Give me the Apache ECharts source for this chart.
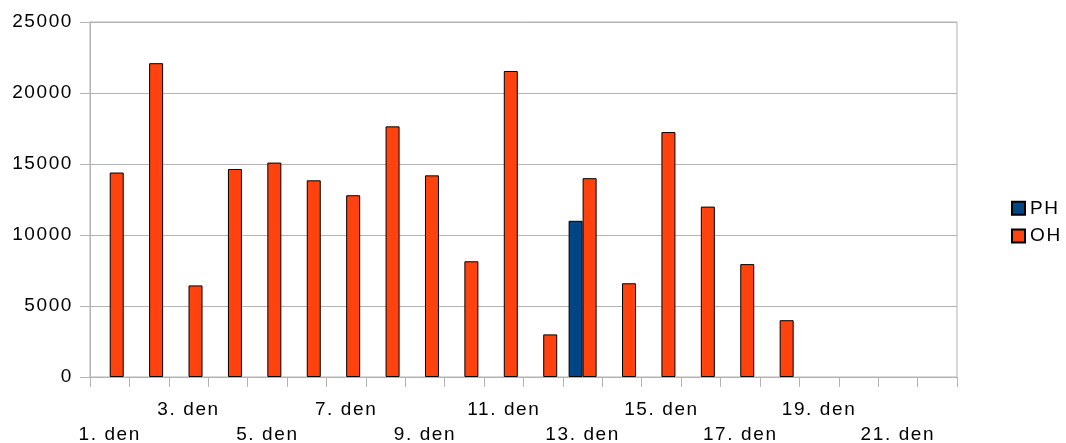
<!DOCTYPE html>
<html>
<head>
<meta charset="utf-8">
<script src="https://cdn.jsdelivr.net/npm/echarts@6/dist/echarts.min.js"></script>
<style>
html,body{margin:0;padding:0;background:#fff;}
#chart{width:1066px;height:443px;}
</style>
</head>
<body>
<div id="chart"></div>
<script>
const categories = ['1. den','2. den','3. den','4. den','5. den','6. den','7. den','8. den','9. den','10. den','11. den',
  '12. den','13. den','14. den','15. den','16. den','17. den','18. den','19. den','20. den','21. den','22. den'];
const phValues = [null,null,null,null,null,null,null,null,null,null,null,null,11000,null,null,null,null,null,null,null,null,null];
const ohValues = [14400,22100,6450,14650,15100,13850,12800,17650,14200,8150,21550,3000,14000,6600,17250,12000,7950,4000,null,null,null,null];
const yTicks = [0,5000,10000,15000,20000,25000];

// wider letter spacing like the original office-style rendering
(function(){
  const P = CanvasRenderingContext2D.prototype;
  if (!('letterSpacing' in P)) return;
  const f = P.fillText, m = P.measureText;
  P.fillText = function(){ this.letterSpacing = '1.6px'; return f.apply(this, arguments); };
  P.measureText = function(){ this.letterSpacing = '1.6px'; return m.apply(this, arguments); };
})();

const FONT = 'Liberation Sans';
const chart = echarts.init(document.getElementById('chart'), null, {renderer:'canvas'});
chart.setOption({
  backgroundColor:'#fff',
  animation:false,
  grid:{left:90,right:109,top:22,bottom:66,show:true,borderColor:'#b3b3b3',borderWidth:1,
        containLabel:false,outerBoundsMode:'none'},
  legend:{
    orient:'vertical', left:1011, top:198, padding:0, itemWidth:13, itemHeight:13, itemGap:7,
    icon:'rect',
    textStyle:{fontFamily:FONT,fontSize:19,lineHeight:20,color:'#000'},
    data:['PH','OH']
  },
  xAxis:{
    type:'category', data:categories, boundaryGap:true,
    axisLine:{show:true,lineStyle:{color:'#b3b3b3',width:1}},
    axisTick:{show:true,interval:0,length:10,lineStyle:{color:'#b3b3b3'}},
    axisLabel:{
      interval:0, margin:20, fontFamily:FONT, fontSize:19, color:'#000', lineHeight:25,
      formatter:function(v,i){
        if(i%2===1) return '';
        return (i%4===0) ? ' \n'+v : v+'\n ';
      }
    }
  },
  yAxis:{
    type:'value', min:yTicks[0], max:yTicks[yTicks.length-1], interval:5000,
    axisLine:{show:true,lineStyle:{color:'#b3b3b3',width:1}},
    axisTick:{show:true,length:10,lineStyle:{color:'#b3b3b3'}},
    splitLine:{show:true,lineStyle:{color:'#b3b3b3',width:1}},
    axisLabel:{margin:17,fontFamily:FONT,fontSize:19,color:'#000',formatter:function(v){return String(v);}}
  },
  series:[
    {name:'PH',type:'bar',data:phValues,barWidth:14,barGap:'0%',
     itemStyle:{color:'#004586',borderColor:'#000',borderWidth:1}},
    {name:'OH',type:'bar',data:ohValues,barWidth:14,barGap:'0%',
     itemStyle:{color:'#ff420e',borderColor:'#000',borderWidth:1}}
  ]
});
</script>
</body>
</html>
